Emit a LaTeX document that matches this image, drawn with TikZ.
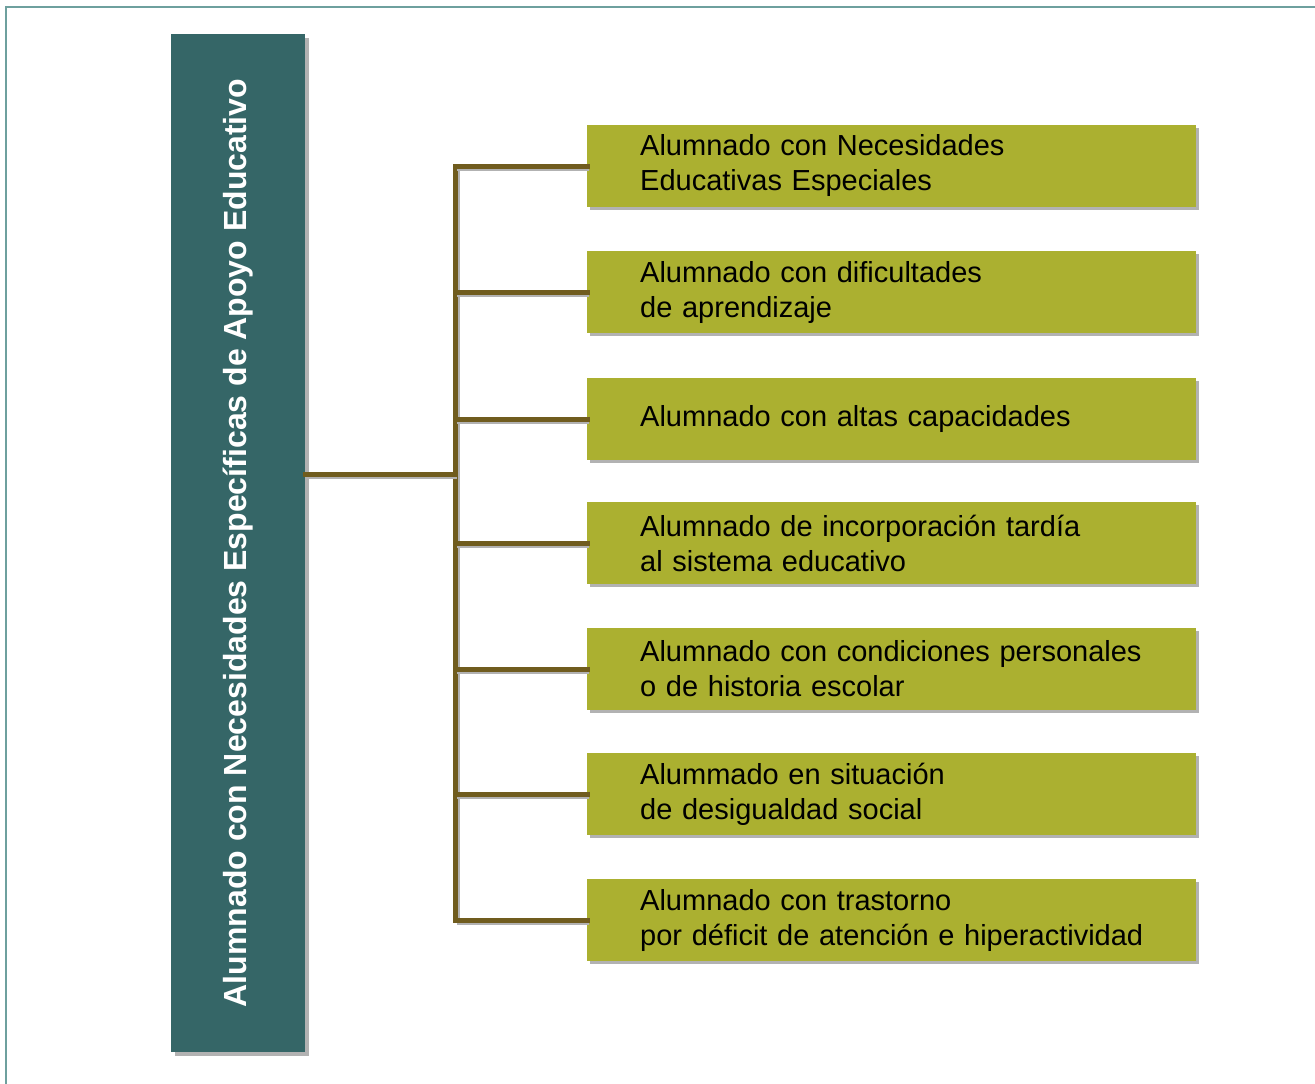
\documentclass[tikz,border=0pt]{standalone}
\usepackage{fontspec}
\setmainfont{Liberation Sans}
\usetikzlibrary{shadows}
\definecolor{verdeazul}{RGB}{53,102,103}
\definecolor{oliva}{RGB}{171,176,48}
\definecolor{linea}{RGB}{112,92,30}
\definecolor{marco}{RGB}{110,160,158}
\begin{document}
\begin{tikzpicture}[x=1pt, y=-1pt,
    principal/.style ={rectangle, fill=verdeazul, minimum width=134pt, minimum height=1018pt,
      inner sep=0pt, drop shadow={shadow xshift=4pt, shadow yshift=-4pt, fill=black!60}},
    categoria/.style ={rectangle, anchor=west, fill=oliva, minimum height=82pt, text width=503pt,
      inner xsep=53pt, inner ysep=0pt, align=left, font=\fontsize{29}{35}\selectfont,
      drop shadow={shadow xshift=3pt, shadow yshift=-3pt, fill=black!60}},
    rama/.style ={line width=5pt, draw=linea, line cap=rect,
      preaction={draw=black!30, line width=5pt, transform canvas={shift={(2pt,-2pt)}}}}]
   \useasboundingbox (0,0) rectangle (1315,1084);
   \draw[marco, line width=2pt] (6,1084) -- (6,7) -- (1315,7);
   \node[principal] (M) at (238,543) {};
   \node[rotate=90, text=white, font=\fontsize{32}{38}\selectfont\bfseries] (MT) at (M.center) {Alumnado con Necesidades Específicas de Apoyo Educativo};
   \node[categoria] (A) at (587,166) {Alumnado con Necesidades\\Educativas Especiales};
   \node[categoria] (B) at (587,292) {Alumnado con dificultades\\de aprendizaje};
   \node[categoria] (C) at (587,419) {Alumnado con altas capacidades};
   \node[categoria] (D) at (587,543) {Alumnado de incorporación tardía\\al sistema educativo};
   \node[categoria] (E) at (587,669) {Alumnado con condiciones personales\\o de historia escolar};
   \node[categoria] (F) at (587,794) {Alummado en situación\\de desigualdad social};
   \node[categoria] (G) at (587,920) {Alumnado con trastorno\\por déficit de atención e hiperactividad};
   \coordinate (J) at (455,474);
   % tronco y ramas
   \draw[rama] (J |- A.west) -- (J |- G.west);
   \draw[rama] (J -| M.east) -- (J);
   \draw[rama] (J |- A.west) -- (A.west);
   \draw[rama] (J |- B.west) -- (B.west);
   \draw[rama] (J |- C.west) -- (C.west);
   \draw[rama] (J |- D.west) -- (D.west);
   \draw[rama] (J |- E.west) -- (E.west);
   \draw[rama] (J |- F.west) -- (F.west);
   \draw[rama] (J |- G.west) -- (G.west);
\end{tikzpicture}
\end{document}
